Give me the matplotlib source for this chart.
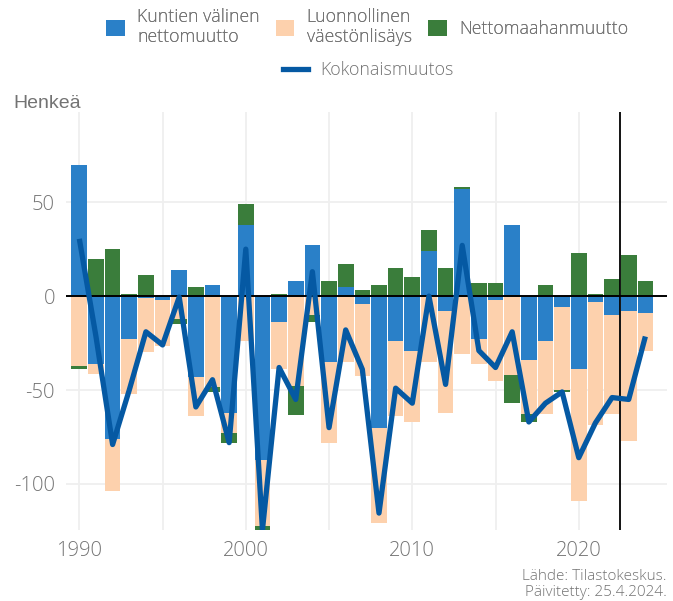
import numpy as np
import matplotlib
matplotlib.use("Agg")
import matplotlib.pyplot as plt
from matplotlib.patches import Patch
from matplotlib.lines import Line2D

years = list(range(1990, 2025))
kuntien = [70, -36, -76, -23, -1, -2, 14, -43, 6, -62, 38, -87, -14, 8, 27, -35, 5, -4, -70, -24,
           -29, 24, -8, 57, -23, -2, 38, -34, -24, -6, -39, -3, -10, -8, -9]
luonnollinen = [-37, -5.5, -28, -29, -29, -24.5, -12, -21, -48.5, -11, -24, -35.5, -25, -48, -10, -43, -35, -38.5, -51, -40,
                -38, -35, -54, -31, -13, -43, -42, -29, -39, -44, -70, -65.5, -53, -69, -20]
maahanmuutto = [-2, 20, 25, 1, 11, 0, -3, 5, -2.5, -5, 11, -2, 1, -15.5, -4, 8, 12, 3, 6, 15,
                10, 11, 15, 1, 7, 7, -15, -4, 6, -1, 23, 1, 9, 22, 8]
kokonais = [30.5, -21.5, -79, -50, -19, -26, -0.5, -59, -44.5, -78, 25, -124.5, -38, -55, 13, -70, -18, -39, -115.5, -49,
            -57, 0, -47, 27, -29, -38, -19, -67, -57, -51, -86, -67.5, -54, -55, -21.5]
series_names = ["Kuntien välinen\nnettomuutto", "Luonnollinen\nväestönlisäys", "Nettomaahanmuutto"]
line_name = "Kokonaismuutos"
y_ticks = [-100, -50, 0, 50]
x_label_ticks = [1990, 2000, 2010, 2020]
forecast_start = 2022.5

colors = ["#2a80c8", "#fdd1ad", "#3a7d3b"]
line_color = "#0559a3"
text_color = "#737373"
FONT = "Open Sans"
W = 300

fig = plt.figure(figsize=(6.73, 6.01), dpi=100)
ax = fig.add_axes([66/673, 1-530/601, (667-66)/673, (530-112)/601])

x = np.array(years, dtype=float)
pos_bottom = np.zeros(len(years))
neg_bottom = np.zeros(len(years))
for vals, col in zip([kuntien, luonnollinen, maahanmuutto], colors):
    v = np.array(vals, dtype=float)
    pos = np.where(v > 0, v, 0)
    neg = np.where(v < 0, v, 0)
    ax.bar(x, pos, bottom=pos_bottom, width=0.94, color=col, linewidth=0, zorder=2)
    ax.bar(x, neg, bottom=neg_bottom, width=0.94, color=col, linewidth=0, zorder=2)
    pos_bottom += pos
    neg_bottom += neg

ax.axhline(0, color="black", lw=1.4, zorder=3)
ax.axvline(forecast_start, color="black", lw=1.3, zorder=3)
ax.plot(x, kokonais, color=line_color, lw=3.8, solid_joinstyle="round", solid_capstyle="butt", zorder=4)

ax.set_xlim(1989.2, 2025.3)
ax.set_ylim(-124.5, 98)
ax.set_yticks(y_ticks)
ax.set_yticklabels([str(t) for t in y_ticks])
ax.set_xticks(list(range(1990, 2025, 5)))
ax.set_xticklabels([str(t) if t in x_label_ticks else "" for t in range(1990, 2025, 5)])
ax.grid(True, color="#efefef", lw=1.3, zorder=0)
ax.set_axisbelow(True)
for s in ax.spines.values():
    s.set_visible(False)
ax.tick_params(length=0, labelsize=14.5, colors=text_color, pad=8)
for lab in ax.get_xticklabels() + ax.get_yticklabels():
    lab.set_fontfamily(FONT)
    lab.set_fontweight(W)

fig.text(13/673, 1-103/601, "Henkeä", fontsize=14, color=text_color, family="Liberation Sans", va="center", ha="left")
fig.text(667/673, 1-577/601, "Lähde: Tilastokeskus.", fontsize=11, color=text_color, family=FONT, weight=W, ha="right", va="center")
fig.text(667/673, 1-593/601, "Päivitetty: 25.4.2024.", fontsize=11, color=text_color, family=FONT, weight=W, ha="right", va="center")

prop = {"family": FONT, "size": 12.8, "weight": W}
handles = [Patch(facecolor=c, edgecolor="none") for c in colors]
leg1 = fig.legend(handles, series_names, loc="center", bbox_to_anchor=(367/673, 1-27/601), ncol=3, frameon=False,
                  prop=prop, labelcolor=text_color, handlelength=1.05, handleheight=1.05,
                  handletextpad=0.7, columnspacing=0.9, labelspacing=0.1)
leg2 = fig.legend([Line2D([0], [0], color=line_color, lw=3.8)], [line_name], loc="center",
                  bbox_to_anchor=(368/673, 1-70/601), frameon=False, prop=prop,
                  labelcolor=text_color, handlelength=1.4, handletextpad=0.7)
fig.add_artist(leg1)

fig.savefig("out.png", dpi=100)
